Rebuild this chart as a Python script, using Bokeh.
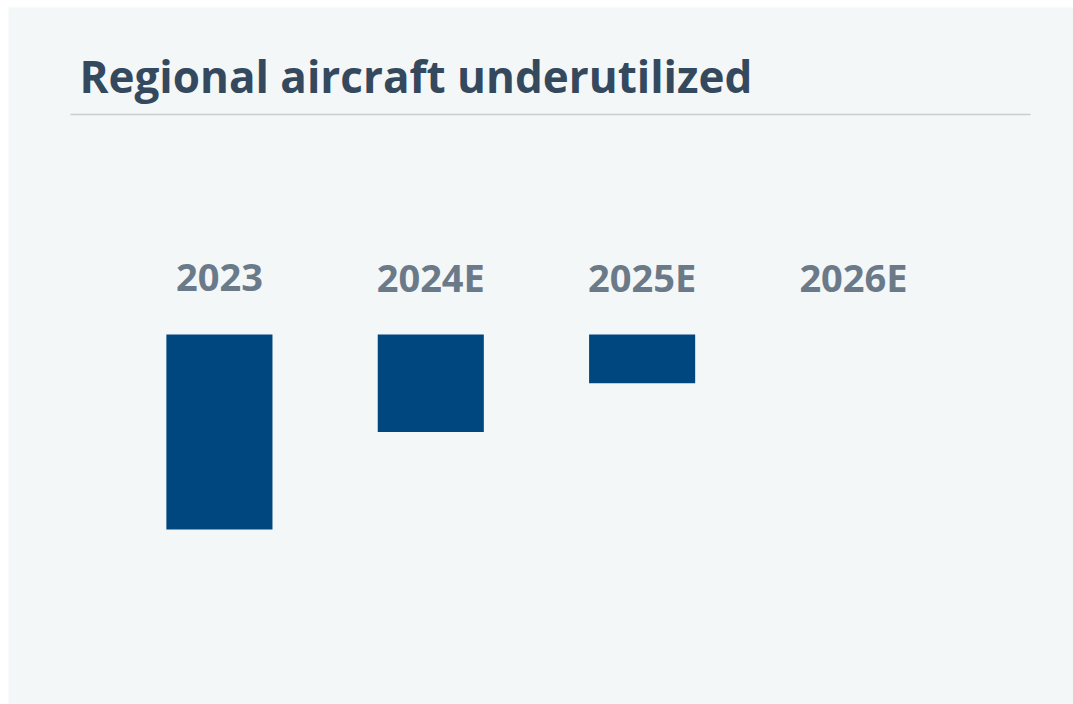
from bokeh.plotting import figure
from bokeh.models import Range1d, Label
from bokeh.core.properties import value
from bokeh.embed import file_html
from bokeh.resources import INLINE

# ---- data ----
categories = ["2023", "2024E", "2025E", "2026E"]
values = [-4.0, -2.0, -1.0, 0.0]
title_text = "Regional aircraft underutilized"

PANEL = "#f4f7f8"
BAR = "#00477f"
TITLE_C = "#35495e"
LABEL_C = "#6b7a89"
FONT = "Open Sans"

W, H = 1065, 697
xs = list(range(len(categories)))

p = figure(width=W, height=H, output_backend="svg", toolbar_location=None,
           x_range=Range1d(-0.998, 4.041), y_range=Range1d(-7.59, 6.708),
           min_border=0, min_border_left=0, min_border_right=0,
           min_border_top=0, min_border_bottom=0, margin=(7, 0, 0, 8))
p.xaxis.visible = False
p.yaxis.visible = False
p.grid.visible = False
p.outline_line_color = None
p.background_fill_color = PANEL
p.border_fill_color = PANEL

# bars hanging from zero
p.vbar(x=xs, top=[0] * len(values), bottom=values, width=0.502,
       fill_color=BAR, line_color=None)

# category labels above the bars
p.text(x=xs, y=[1.17] * len(categories), text=categories,
       text_font=value(FONT), text_font_style="bold", text_font_size="38px",
       text_color=LABEL_C, text_align="center", text_baseline="alphabetic")

# title and rule
p.add_layout(Label(x=-0.6625, y=5.31, text=title_text, text_font=FONT,
                   text_font_style="bold", text_font_size="44px",
                   text_color=TITLE_C, text_baseline="alphabetic"))
p.segment(x0=[-0.705], y0=[4.513], x1=[3.838], y1=[4.513],
          line_color="#c9cdd1", line_width=1.5)

open("out.html", "w").write(file_html(p, INLINE))
